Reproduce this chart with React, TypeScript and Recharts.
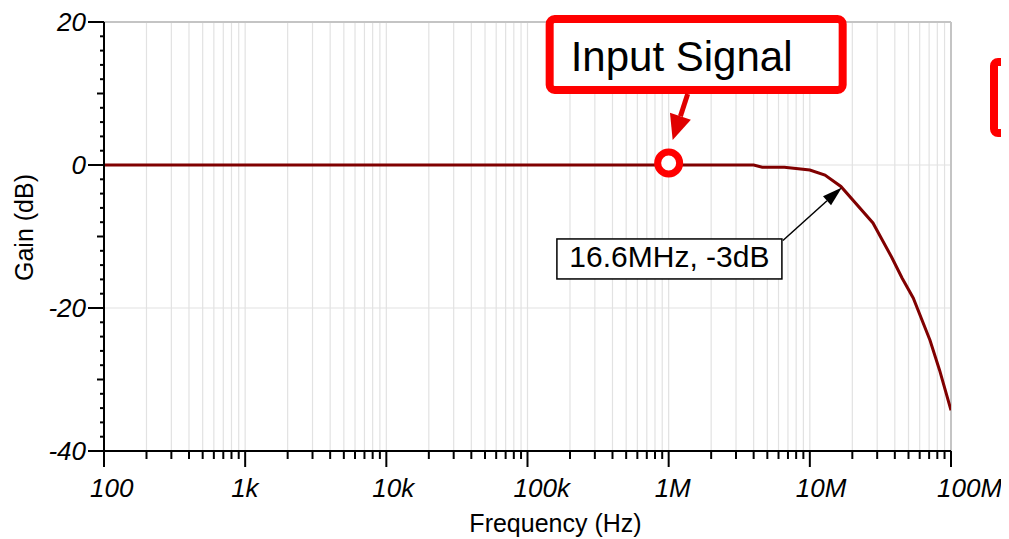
import React from "react";
import {
  LineChart,
  Line,
  XAxis,
  YAxis,
  CartesianGrid,
  ReferenceLine,
  ReferenceDot,
  Label,
} from "recharts";

// Simulated AC response of the amplifier stage
const FREQ_HZ = [
  100, 1e3, 1e4, 1e5, 1e6, 4.0e6, 4.6e6, 6.6e6, 1.0e7, 1.28e7, 1.66e7, 2.8e7,
  3.8e7, 4.5e7, 5.4e7, 7.1e7, 8.3e7, 1e8,
];
const GAIN_DB = [
  0, 0, 0, 0, 0, 0, -0.3, -0.3, -0.7, -1.4, -3, -8.1, -12.9, -15.8, -18.6,
  -24.5, -28.7, -34.3,
];

// Axis ticks
const DECADES = [100, 1e3, 1e4, 1e5, 1e6, 1e7, 1e8];
const DECADE_LABELS = ["100", "1k", "10k", "100k", "1M", "10M", "100M"];
const MINOR_STEPS = [2, 3, 4, 5, 6, 7, 8, 9];
const GAIN_TICKS = [
  20, 18, 16, 14, 12, 10, 8, 6, 4, 2, 0, -2, -4, -6, -8, -10, -12, -14, -16,
  -18, -20, -22, -24, -26, -28, -30, -32, -34, -36, -38, -40,
];
const GAIN_GRID = [0, -20];

// Annotated points
const INPUT_FREQ = 1e6;
const INPUT_GAIN = 0;
const CORNER_FREQ = 16.6e6;
const CORNER_GAIN = -3;
const CORNER_TEXT = "16.6MHz, -3dB";
const INPUT_TEXT = "Input Signal";

const FONT = '"Liberation Sans", Arial, Helvetica, sans-serif';

const FREQ_TICKS: number[] = [];
DECADES.forEach((d, i) => {
  FREQ_TICKS.push(d);
  if (i < DECADES.length - 1) MINOR_STEPS.forEach((m) => FREQ_TICKS.push(d * m));
});

const rows = FREQ_HZ.map((f, i) => ({ freq: f, gain: GAIN_DB[i] }));

const isDecade = (v: number) =>
  Math.abs(Math.log10(v) - Math.round(Math.log10(v))) < 1e-9;

const FreqTick = (props: any) => {
  const { x, y, payload } = props;
  const v = payload.value as number;
  const major = isDecade(v);
  const idx = DECADES.findIndex((d) => Math.abs(d - v) / d < 1e-9);
  return (
    <g>
      <line x1={x} x2={x} y1={y} y2={y + (major ? 16 : 8)} stroke="#000" strokeWidth={2} />
      {idx >= 0 && (
        <text
          x={x - 14}
          y={y + 46}
          textAnchor="start"
          fontFamily={FONT}
          fontStyle="italic"
          fontSize={26}
          fill="#000"
        >
          {DECADE_LABELS[idx]}
        </text>
      )}
    </g>
  );
};

const GainTick = (props: any) => {
  const { x, y, payload } = props;
  const v = payload.value as number;
  const len = v % 20 === 0 ? 16 : v % 10 === 0 ? 7 : 4;
  return (
    <g>
      <line x1={x - len} x2={x} y1={y} y2={y} stroke="#000" strokeWidth={2} />
      {v % 20 === 0 && (
        <text
          x={x - 18}
          y={y + 9}
          textAnchor="end"
          fontFamily={FONT}
          fontStyle="italic"
          fontSize={26}
          fill="#000"
        >
          {v}
        </text>
      )}
    </g>
  );
};

// Red callout pointing at the input frequency
const InputMarker = (props: any) => {
  const { cx, cy } = props;
  const sx = cx + 19;
  const sy = cy - 71;
  const tx = cx + 4;
  const ty = cy - 25;
  const dx = tx - sx;
  const dy = ty - sy;
  const L = Math.hypot(dx, dy);
  const ux = dx / L;
  const uy = dy / L;
  const bx = tx - 25 * ux;
  const by = ty - 25 * uy;
  const px = -uy;
  const py = ux;
  const hw = 11;
  return (
    <g>
      <rect
        x={cx - 119}
        y={cy - 146}
        width={293}
        height={71}
        rx={5}
        fill="#fff"
        stroke="#ff0000"
        strokeWidth={8}
      />
      <text x={cx - 98} y={cy - 94} fontFamily={FONT} fontSize={42} fill="#000">
        {INPUT_TEXT}
      </text>
      <line x1={sx} y1={sy} x2={bx} y2={by} stroke="#e00000" strokeWidth={5} />
      <polygon
        points={`${tx},${ty} ${bx + hw * px},${by + hw * py} ${bx - hw * px},${by - hw * py}`}
        fill="#e00000"
      />
      <circle cx={cx} cy={cy - 2} r={11} fill="#fff" stroke="#ff0000" strokeWidth={7} />
    </g>
  );
};

// Black label with arrow at the -3 dB point
const CornerMarker = (props: any) => {
  const { cx, cy } = props;
  const sx = cx - 58;
  const sy = cy + 54;
  const tx = cx + 1;
  const ty = cy + 1;
  const dx = tx - sx;
  const dy = ty - sy;
  const L = Math.hypot(dx, dy);
  const ux = dx / L;
  const uy = dy / L;
  const bx = tx - 20 * ux;
  const by = ty - 20 * uy;
  const px = -uy;
  const py = ux;
  const hw = 6;
  const boxX = cx - 284;
  const boxY = cy + 52.5;
  return (
    <g>
      <line x1={sx} y1={sy} x2={bx} y2={by} stroke="#000" strokeWidth={1.5} />
      <polygon
        points={`${tx},${ty} ${bx + hw * px},${by + hw * py} ${bx - hw * px},${by - hw * py}`}
        fill="#000"
      />
      <rect x={boxX} y={boxY} width={225} height={40} fill="#fff" stroke="#000" strokeWidth={1.5} />
      <text
        x={boxX + 112.5}
        y={boxY + 28}
        textAnchor="middle"
        fontFamily={FONT}
        fontSize={30}
        fill="#000"
      >
        {CORNER_TEXT}
      </text>
    </g>
  );
};

export default function App() {
  return (
    <div style={{ position: "relative", width: 1009, height: 539, margin: "-8px 0 0 -8px" }}>
      <LineChart
        width={1009}
        height={539}
        data={rows}
        margin={{ top: 22, right: 58, bottom: 0, left: 0 }}
      >
        <CartesianGrid
          verticalValues={FREQ_TICKS}
          horizontalValues={GAIN_GRID}
          stroke="#e2e2e2"
          strokeWidth={1.2}
        />
        <XAxis
          dataKey="freq"
          type="number"
          scale="log"
          domain={[100, 1e8]}
          ticks={FREQ_TICKS}
          interval={0}
          height={88}
          tickSize={0}
          tickMargin={0}
          tickLine={false}
          axisLine={{ stroke: "#000", strokeWidth: 2 }}
          tick={<FreqTick />}
          allowDataOverflow
        >
          <Label
            content={(p: any) => {
              const vb = p.viewBox;
              return (
                <text
                  x={vb.x + vb.width / 2 + 28}
                  y={vb.y + 81}
                  textAnchor="middle"
                  fontFamily={FONT}
                  fontSize={25}
                  fill="#000"
                >
                  Frequency (Hz)
                </text>
              );
            }}
          />
        </XAxis>
        <YAxis
          type="number"
          domain={[-40, 20]}
          ticks={GAIN_TICKS}
          interval={0}
          width={104}
          tickSize={0}
          tickMargin={0}
          tickLine={false}
          axisLine={{ stroke: "#000", strokeWidth: 2 }}
          tick={<GainTick />}
          allowDataOverflow
        >
          <Label
            content={(p: any) => {
              const vb = p.viewBox;
              const cy = vb.y + vb.height / 2 - 9;
              return (
                <text
                  x={33}
                  y={cy}
                  transform={`rotate(-90 33 ${cy})`}
                  textAnchor="middle"
                  fontFamily={FONT}
                  fontSize={25}
                  fill="#000"
                >
                  Gain (dB)
                </text>
              );
            }}
          />
        </YAxis>
        <ReferenceLine y={20} stroke="#c4c4c4" strokeWidth={2} />
        <ReferenceLine x={1e8} stroke="#c4c4c4" strokeWidth={2} />
        <Line
          dataKey="gain"
          type="linear"
          stroke="#800000"
          strokeWidth={3}
          dot={false}
          isAnimationActive={false}
        />
        <ReferenceDot x={INPUT_FREQ} y={INPUT_GAIN} shape={InputMarker} />
        <ReferenceDot x={CORNER_FREQ} y={CORNER_GAIN} shape={CornerMarker} />
      </LineChart>
      <svg
        width={1009}
        height={539}
        style={{ position: "absolute", left: 0, top: 0, pointerEvents: "none" }}
      >
        <rect x={349} y={3} width={4} height={2} fill="#000" />
        <rect x={994} y={62} width={40} height={71} rx={4} fill="none" stroke="#ff0000" strokeWidth={8} />
      </svg>
    </div>
  );
}
